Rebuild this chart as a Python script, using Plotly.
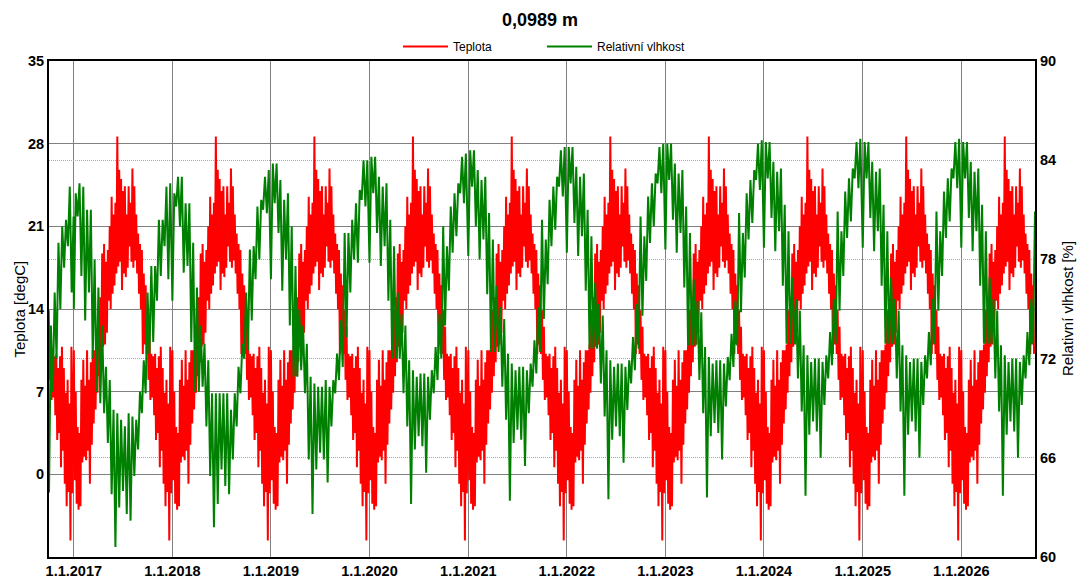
import pandas as pd
import plotly.graph_objects as go

# ---------------- data ----------------
x_start = "2016-10-01"
x_end = "2026-10-01"
year_ticks = ["2017-01-01", "2018-01-01", "2019-01-01", "2020-01-01", "2021-01-01",
              "2022-01-01", "2023-01-01", "2024-01-01", "2025-01-01", "2026-01-01"]

# Temperature [degC]: the reference repeats the same climate year every year.
# Weekly maxima / minima of that year (week k starts on 1 Jan + 7k days).
temp_hi = [10.5, 7.0, 4.0, 3.5, 8.0, 9.7, 7.5, 10.5, 8.0, 9.5, 10.5, 10.5, 11.0,
           13.9, 15.0, 18.7, 19.5, 18.0, 19.0, 21.0, 23.5, 22.0, 23.0, 28.6, 25.8, 25.0,
           24.0, 24.4, 22.0, 24.4, 23.0, 25.9, 24.4, 22.0, 20.4, 19.5, 19.0, 17.0, 16.0,
           13.9, 12.5, 10.2, 10.0, 10.2, 9.0, 10.0, 10.8, 9.0, 6.9, 8.0, 6.0, 10.8]
temp_lo = [-0.5, -2.5, -3.0, -2.7, 1.0, 1.5, 1.2, 2.0, -0.8, 2.5, 4.3, 5.5, 6.9,
           8.3, 9.5, 10.8, 11.0, 12.0, 14.7, 14.0, 15.3, 16.0, 17.0, 17.6, 18.0, 15.6,
           17.0, 16.7, 17.5, 19.3, 18.0, 17.5, 18.1, 17.0, 15.3, 14.0, 10.2, 11.0, 10.2,
           8.0, 6.3, 6.5, 5.0, 2.9, 3.5, 0.6, 2.0, -0.8, -2.7, -1.5, -5.6, -1.6]

# Relative humidity [%]: two-week minima / maxima (period p starts on 1 Jan + 14p days;
# in 2016 the periods start on 1 Oct).
rh_lo_2016 = [63.9, 70.0, 72.0, 75.0, 77.5, 78.8, 76.0]
rh_hi_2016 = [74.0, 76.0, 79.0, 80.0, 80.4, 82.4, 80.6]

rh_lo_2017 = [75.0, 80.6, 77.0, 74.3, 76.0, 72.0, 70.0, 69.3, 68.7, 66.9, 63.8, 60.6, 63.0,
              64.0, 62.6, 62.2, 64.9, 66.5, 68.7, 69.9, 72.3, 73.0, 75.5, 77.0, 78.8, 76.8]
rh_hi_2017 = [82.0, 82.6, 82.4, 81.0, 81.0, 78.0, 76.3, 74.0, 71.5, 70.7, 68.9, 68.7, 68.3,
              67.9, 68.7, 68.5, 68.3, 70.0, 71.9, 76.0, 77.6, 77.6, 80.4, 80.4, 82.4, 82.6]

rh_lo_2018 = [75.5, 81.2, 80.0, 77.2, 77.6, 73.0, 70.0, 70.0, 70.3, 67.9, 64.9, 61.8, 63.2,
              65.3, 64.3, 63.8, 65.9, 67.9, 69.9, 72.0, 72.5, 74.3, 76.8, 78.0, 81.0, 80.8]
rh_hi_2018 = [82.0, 83.0, 83.0, 81.4, 81.4, 79.0, 76.3, 74.0, 72.9, 71.9, 69.9, 69.9, 69.9,
              69.9, 69.9, 68.9, 69.9, 71.5, 72.9, 76.0, 78.6, 78.8, 81.2, 81.6, 83.0, 83.4]

rh_lo_2019 = [76.8, 81.4, 79.6, 76.1, 78.0, 74.0, 70.9, 70.9, 71.3, 69.9, 65.9, 62.6, 65.3,
              66.3, 65.9, 64.5, 67.9, 69.9, 70.7, 71.5, 73.3, 76.0, 78.0, 77.8, 81.6, 81.2]
rh_hi_2019 = [83.8, 83.8, 82.8, 81.6, 82.0, 80.0, 77.6, 75.0, 74.0, 72.9, 70.9, 70.5, 70.3,
              70.3, 70.7, 70.3, 70.7, 72.3, 74.3, 79.6, 79.6, 80.4, 81.4, 82.2, 84.0, 84.0]

rh_lo_2020 = [77.8, 82.0, 79.6, 77.6, 78.8, 75.5, 72.0, 72.0, 72.0, 69.9, 67.9, 63.2, 66.5,
              67.3, 66.7, 65.1, 68.3, 69.9, 70.7, 72.0, 74.0, 76.1, 78.4, 79.4, 82.0, 81.4]
rh_hi_2020 = [84.2, 84.2, 83.0, 82.4, 82.6, 80.4, 78.8, 76.0, 74.7, 74.0, 71.9, 71.3, 70.9,
              71.1, 71.1, 70.9, 71.3, 72.7, 74.7, 80.0, 78.8, 81.2, 82.0, 82.6, 84.2, 84.4]

rh_lo_2021 = [78.2, 82.4, 80.0, 78.0, 79.2, 75.9, 72.4, 72.4, 72.4, 70.3, 68.3, 63.4, 66.9,
              67.7, 67.1, 65.5, 68.7, 70.3, 71.1, 72.4, 74.4, 76.5, 78.8, 79.8, 82.4, 81.8]
rh_hi_2021 = [84.6, 84.6, 83.4, 82.8, 83.0, 80.8, 79.2, 76.4, 75.1, 74.4, 72.3, 71.7, 71.3,
              71.5, 71.5, 71.3, 71.7, 73.1, 75.1, 80.4, 79.2, 81.6, 82.4, 83.0, 84.6, 84.8]

rh_lo_2022 = [78.4, 82.6, 80.2, 78.2, 79.4, 76.1, 72.6, 72.6, 72.6, 70.5, 68.5, 63.5, 67.1,
              67.9, 67.3, 65.7, 68.9, 70.5, 71.3, 72.6, 74.6, 76.7, 79.0, 80.0, 82.6, 82.0]
rh_hi_2022 = [84.8, 84.8, 83.6, 83.0, 83.2, 81.0, 79.4, 76.6, 75.3, 74.6, 72.5, 71.9, 71.5,
              71.7, 71.7, 71.5, 71.9, 73.3, 75.3, 80.6, 79.4, 81.8, 82.6, 83.2, 84.8, 85.0]

rh_lo_2023 = [78.6, 82.8, 80.4, 78.4, 79.6, 76.3, 72.8, 72.8, 72.8, 70.7, 68.7, 63.6, 67.3,
              68.1, 67.5, 65.9, 69.1, 70.7, 71.5, 72.8, 74.8, 76.9, 79.2, 80.2, 82.8, 82.2]
rh_hi_2023 = [85.0, 85.0, 83.8, 83.2, 83.4, 81.2, 79.6, 76.8, 75.5, 74.8, 72.7, 72.1, 71.7,
              71.9, 71.9, 71.7, 72.1, 73.5, 75.5, 80.8, 79.6, 82.0, 82.8, 83.4, 85.0, 85.2]

rh_lo_2024 = [78.7, 82.9, 80.5, 78.5, 79.7, 76.4, 72.9, 72.9, 72.9, 70.8, 68.8, 63.7, 67.4,
              68.2, 67.6, 66.0, 69.2, 70.8, 71.6, 72.9, 74.9, 77.0, 79.3, 80.3, 82.9, 82.3]
rh_hi_2024 = [85.1, 85.1, 83.9, 83.3, 83.5, 81.3, 79.7, 76.9, 75.6, 74.9, 72.8, 72.2, 71.8,
              72.0, 72.0, 71.8, 72.2, 73.6, 75.6, 80.9, 79.7, 82.1, 82.9, 83.5, 85.1, 85.3]

rh_lo_2025 = [78.7, 82.9, 80.5, 78.5, 79.7, 76.4, 72.9, 72.9, 72.9, 70.8, 68.8, 63.7, 67.4,
              68.2, 67.6, 66.0, 69.2, 70.8, 71.6, 72.9, 74.9, 77.0, 79.3, 80.3, 82.9, 82.3]
rh_hi_2025 = [85.1, 85.1, 83.9, 83.3, 83.5, 81.3, 79.7, 76.9, 75.6, 74.9, 72.8, 72.2, 71.8,
              72.0, 72.0, 71.8, 72.2, 73.6, 75.6, 80.9, 79.7, 82.1, 82.9, 83.5, 85.1, 85.3]

rh_lo_2026 = [78.7, 82.9, 80.5, 78.5, 79.7, 76.4, 72.9, 72.9, 72.9, 70.8, 68.8, 63.7, 67.4,
              68.2, 67.6, 66.0, 69.2, 70.8, 71.6, 72.9]
rh_hi_2026 = [85.1, 85.1, 83.9, 83.3, 83.5, 81.3, 79.7, 76.9, 75.6, 74.9, 72.8, 72.2, 71.8,
              72.0, 72.0, 71.8, 72.2, 73.6, 75.6, 80.9]

temp_ticks = [0, 7, 14, 21, 28, 35]
rh_ticks = [60, 66, 72, 78, 84, 90]

# ---------------- build series ----------------
t0 = pd.Timestamp(x_start)
t1 = pd.Timestamp(x_end)

temp_x, temp_y = [], []
for year in range(2016, 2027):
    jan1 = pd.Timestamp(year=year, month=1, day=1)
    for k, (hi, lo) in enumerate(zip(temp_hi, temp_lo)):
        d0 = jan1 + pd.Timedelta(days=7 * k)
        if d0 < t0 - pd.Timedelta(days=1) or d0 >= t1:
            continue
        temp_x += [d0, d0 + pd.Timedelta(hours=84)]
        temp_y += [hi, lo]

rh_segments = [
    (t0, rh_lo_2016, rh_hi_2016),
    (pd.Timestamp("2017-01-01"), rh_lo_2017, rh_hi_2017),
    (pd.Timestamp("2018-01-01"), rh_lo_2018, rh_hi_2018),
    (pd.Timestamp("2019-01-01"), rh_lo_2019, rh_hi_2019),
    (pd.Timestamp("2020-01-01"), rh_lo_2020, rh_hi_2020),
    (pd.Timestamp("2021-01-01"), rh_lo_2021, rh_hi_2021),
    (pd.Timestamp("2022-01-01"), rh_lo_2022, rh_hi_2022),
    (pd.Timestamp("2023-01-01"), rh_lo_2023, rh_hi_2023),
    (pd.Timestamp("2024-01-01"), rh_lo_2024, rh_hi_2024),
    (pd.Timestamp("2025-01-01"), rh_lo_2025, rh_hi_2025),
    (pd.Timestamp("2026-01-01"), rh_lo_2026, rh_hi_2026),
]
rh_x, rh_y = [], []
for start, los, his in rh_segments:
    for p, (lo, hi) in enumerate(zip(los, his)):
        d0 = start + pd.Timedelta(days=14 * p)
        rh_x += [d0, d0 + pd.Timedelta(days=7)]
        rh_y += [lo, hi]

# ---------------- figure ----------------
FONT = "Liberation Sans, Arial, sans-serif"
W, H = 1077, 579
ML, MR, MT, MB = 49, 42, 61, 22
PW = W - ML - MR

fig = go.Figure()
fig.add_trace(go.Scatter(x=temp_x, y=temp_y, mode="lines", name="Teplota",
                         line=dict(color="#FF0000", width=2), yaxis="y"))
fig.add_trace(go.Scatter(x=rh_x, y=rh_y, mode="lines", name="Relativní vlhkost",
                         line=dict(color="#008000", width=2), yaxis="y2"))

fig.update_layout(
    width=W, height=H,
    margin=dict(l=ML, r=MR, t=MT, b=MB, pad=0, autoexpand=False),
    paper_bgcolor="white", plot_bgcolor="white",
    font=dict(family=FONT, color="black"),
    title=dict(text="<b>0,0989 m</b>", x=540 / W, xanchor="center", xref="container",
               y=1 - 20 / H, yanchor="middle", yref="container",
               font=dict(size=18, family=FONT, color="black")),
    showlegend=True,
    legend=dict(orientation="h", x=0.5, xanchor="center", y=1.0, yanchor="bottom",
                font=dict(size=12, family=FONT, color="black"),
                bgcolor="rgba(0,0,0,0)", itemwidth=45, entrywidth=84,
                entrywidthmode="pixels", traceorder="normal"),
    xaxis=dict(type="date", range=[x_start, x_end], tickmode="array",
               tickvals=year_ticks, tickformat="%-d.%-m.%Y", automargin=False,
               showgrid=True, gridcolor="#808080", gridwidth=1,
               showline=True, linecolor="black", linewidth=2, mirror=True,
               ticks="", zeroline=False,
               tickfont=dict(size=14.5, family=FONT, color="black", weight="bold")),
    yaxis=dict(range=[-7, 35], tickmode="array", tickvals=temp_ticks, automargin=False,
               showgrid=True, gridcolor="#808080", gridwidth=1,
               showline=True, linecolor="black", linewidth=2, mirror=True,
               ticks="", zeroline=False,
               tickfont=dict(size=14.5, family=FONT, color="black", weight="bold")),
    yaxis2=dict(range=[60, 90], overlaying="y", side="right", tickmode="array",
                tickvals=rh_ticks, automargin=False,
                showgrid=True, gridcolor="#a8a8a8", gridwidth=1,
                griddash="1px,1px", showline=True, linecolor="black", linewidth=2,
                ticks="", zeroline=False,
                tickfont=dict(size=14.5, family=FONT, color="black", weight="bold")),
    annotations=[
        dict(text="Teplota [degC]", textangle=-90, xref="paper", yref="paper",
             x=(18.5 - ML) / PW, y=0.5, xanchor="center", yanchor="middle",
             showarrow=False, font=dict(size=15, family=FONT, color="black")),
        dict(text="Relativní vlhkost [%]", textangle=-90, xref="paper", yref="paper",
             x=(1067 - ML) / PW, y=0.5, xanchor="center", yanchor="middle",
             showarrow=False, font=dict(size=15, family=FONT, color="black")),
    ],
)

# remove the default 8 px page margin so the figure fills the window exactly
fig.write_html("out.html",
               config={"displayModeBar": False},
               post_script="document.body.style.margin='0';"
                           "document.body.style.overflow='hidden';")
